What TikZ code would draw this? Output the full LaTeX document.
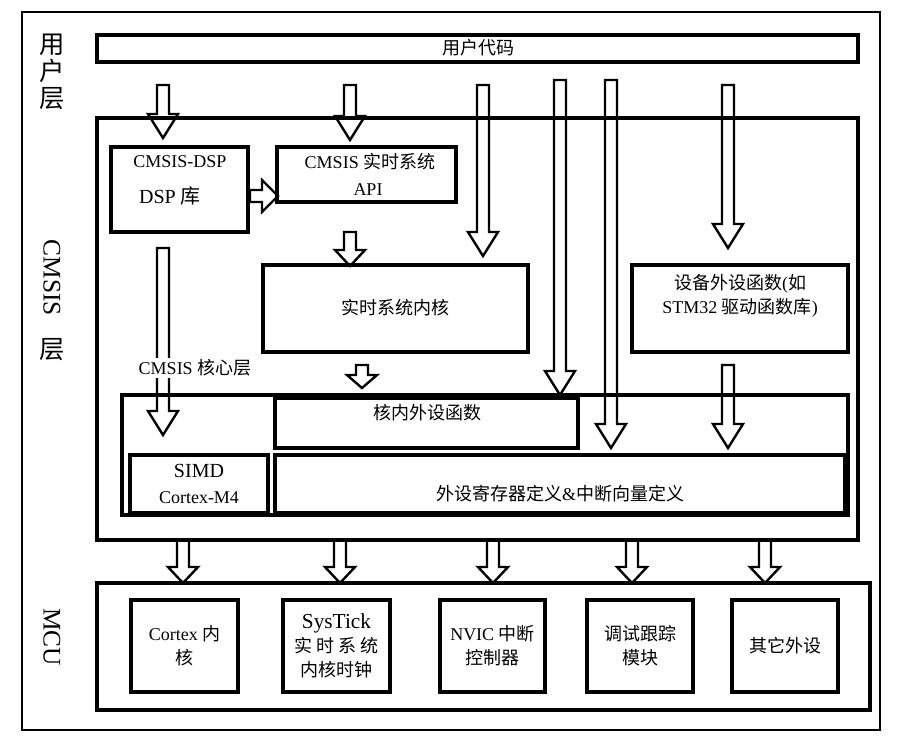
\documentclass[tikz,border=0pt]{standalone}
\usepackage{fontspec}
\setmainfont{Liberation Serif}
\newfontfamily\cjk{Noto Sans CJK SC}
\begin{document}
\begin{tikzpicture}[x=0.75pt,y=-0.75pt,
  box/.style={draw,line width=2.6pt,inner sep=0pt},
  txt/.style={font=\fontsize{13.5}{18}\selectfont,align=center},
  big/.style={font=\fontsize{19}{22}\selectfont},
  hollow/.style={draw,line width=1.8pt,fill=white,line join=miter}]
\useasboundingbox (0,0) rectangle (899,740);
\newcommand\harrh[4]{\draw[hollow] (#1-6,#2) -- (#1+6,#2) -- (#1+6,#3-#4) -- (#1+15,#3-#4) -- (#1,#3) -- (#1-15,#3-#4) -- (#1-6,#3-#4) -- cycle;}
\newcommand\harr[3]{\harrh{#1}{#2}{#3}{24}}
\draw[line width=0.8pt] (22,12) rectangle (880,730);
\node[big,align=center] (lu) at (52,72) {{\cjk 用}\\[-2pt]{\cjk 户}\\[-2pt]{\cjk 层}};
\node[big,rotate=-90] (lc) at (52,278) {CMSIS};
\node[big] (lc2) at (52,350) {\cjk 层};
\node[big,rotate=-90] (lm) at (52,637) {MCU};
\draw[box] (97,35) rectangle (858,62);
\node[txt] (uc) at (478,48) {\cjk 用户代码};
\harr{163}{85}{138}
\harr{350}{85}{140}
\harr{483}{85}{256}
\harr{560}{80}{395}
\harr{611}{80}{448}
\harr{728}{85}{248}
\harr{163}{248}{435}
\harrh{350}{232}{266}{16}
\harrh{362}{365}{388}{13}
\harr{728}{365}{448}
\foreach \x in {183,340,493,632,765}{\harrh{\x}{540}{583}{16}}
\draw[hollow] (250,190) -- (262,190) -- (262,180) -- (278,196) -- (262,212) -- (262,202) -- (250,202) -- cycle;
\draw[box] (97,118) rectangle (858,540);
\draw[box] (111,147) rectangle (248,232);
\node[txt] (dsp1) at (180,162) {CMSIS-DSP};
\node[txt,font=\fontsize{15}{18}\selectfont] (dsp2) at (170,196) {DSP {\cjk 库}};
\draw[box] (277,147) rectangle (456,202);
\node[txt] (api1) at (370,162) {CMSIS {\cjk 实时系统}};
\node[txt] (api2) at (368,190) {API};
\draw[box] (263,265) rectangle (528,352);
\node[txt] (k) at (395,308) {\cjk 实时系统内核};
\draw[box] (632,265) rectangle (848,352);
\node[txt] (dev) at (740,296) {{\cjk 设备外设函数}(\cjk 如\\STM32 {\cjk 驱动函数库})};
\node[txt,fill=white,inner sep=1pt] (core) at (195,368) {CMSIS {\cjk 核心层}};
\draw[box] (122,395) rectangle (848,515);
\draw[box] (275,398) rectangle (578,448);
\node[txt] (cp) at (427,413) {\cjk 核内外设函数};
\draw[box] (130,455) rectangle (268,513);
\node[txt] (simd) at (199,484) {\fontsize{15}{17}\selectfont SIMD\\[2pt]Cortex-M4};
\draw[box] (275,455) rectangle (845,513);
\node[txt] (reg) at (560,494) {{\cjk 外设寄存器定义}\&{\cjk 中断向量定义}};
\draw[box] (97,583) rectangle (870,710);
\foreach \xa/\xb/\t [count=\i] in {131/238/{Cortex {\cjk 内}\\{\cjk 核}},
  283/390/{\fontsize{16}{18}\selectfont SysTick\\{\cjk 实 时 系 统}\\{\cjk 内核时钟}},
  440/545/{NVIC {\cjk 中断}\\{\cjk 控制器}},
  587/693/{{\cjk 调试跟踪}\\{\cjk 模块}},
  732/838/{\cjk 其它外设}}{
  \draw[box] (\xa,600) rectangle (\xb,692);
  \node[txt] (m\i) at ({(\xa+\xb)/2},646) {\t};
}
\end{tikzpicture}
\end{document}
